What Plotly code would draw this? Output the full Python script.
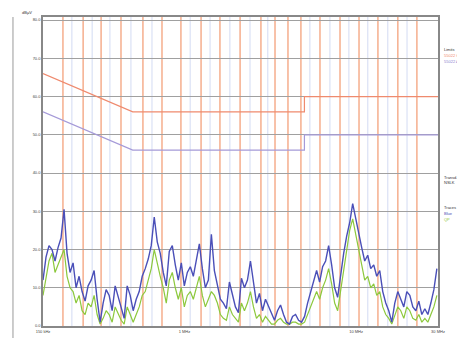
import numpy as np
import plotly.graph_objects as go

# frequency axis (MHz), log scale 150 kHz .. 30 MHz
f_min, f_max = 0.15, 30.0

blue_trace = [
    12, 18, 21, 20, 17, 20.5, 23, 30.5, 19, 14, 16.5, 10, 13, 9, 6.5, 10.5,
    12, 14.5, 7, 1, 6, 9.5, 8, 4, 10.5, 7.5, 5, 2, 10.5, 8, 4, 7,
    9, 13, 15, 17.5, 21, 28.5, 22, 19, 14, 10.5, 19.5, 21, 16, 12,
    16.5, 10.5, 14, 15.5, 13, 17, 21.5, 15, 10, 12, 24, 14.5, 11, 7,
    6, 4.5, 11.5, 8, 5, 3.5, 12.5, 10, 12, 17, 11, 6, 8.5, 4,
    7, 5, 3, 1.5, 4, 5.5, 3, 1, 0.5, 2.5, 3, 1.5, 1, 2.5,
    6, 9, 12, 14.5, 11.5, 15.5, 17, 21, 16, 10, 7.5, 14, 19, 23.5,
    27, 32, 28, 24, 20.5, 17, 18.5, 15, 16, 13, 14.5, 9, 6, 4,
    1, 6, 9, 7, 5, 9, 8, 5, 4, 6.5, 3, 4.5, 3, 6, 9.5, 15,
]
green_trace = [
    8, 12, 17, 19, 14, 16, 18, 20, 13, 10, 9, 6, 8, 4, 3, 6,
    5, 8, 3, 0.5, 2, 4, 3, 1, 5, 3, 1.5, 0.5, 5, 3, 1, 3,
    5, 8, 9, 12, 15, 20, 16, 13, 10, 6, 12, 14, 10, 7,
    10, 5, 8, 9, 7, 10, 13, 8, 5, 7, 9, 8, 6, 3,
    2, 1.5, 5, 3, 2, 1, 6, 4, 6, 9, 5, 2, 3, 1,
    2.5, 1.5, 0.5, 0.5, 1.5, 2, 1, 0.5, 0.5, 1, 1, 0.5, 0.5, 1,
    3, 5, 7, 9, 7, 10, 12, 15, 11, 6, 4, 9, 14, 19,
    25, 28, 24, 19, 15, 12, 13, 10, 11, 8, 9, 5, 3, 2,
    0.5, 3, 5, 4, 2, 5, 4, 2, 1.5, 3, 1, 2, 1, 3, 5, 8,
]
freq = np.geomspace(f_min, 30.0 * 0.985, len(blue_trace))

# EN55022 class B limits
limit_f = [0.15, 0.5, 5.0, 5.0, 30.0]
limit_qp = [66, 56, 56, 60, 60]
limit_av = [56, 46, 46, 50, 50]

# marker lines (MHz)
orange_marks = [0.196, 0.257, 0.327, 0.427, 0.573, 0.740, 0.954, 1.25, 1.61,
                2.11, 2.79, 3.37, 4.01, 4.77, 6.16, 8.06, 10.4, 13.4, 17.5, 22.6]
blue_marks = [0.221, 0.290, 0.368, 0.488, 0.647, 1.08, 1.41, 1.84, 2.41,
              3.06, 5.38, 7.04, 9.08, 11.7, 15.3, 19.8]

y_ticks = [0, 10, 20, 30, 40, 50, 60, 70, 80]
x_tickvals = [0.15, 1, 10, 30]
x_ticktext = ["150 kHz", "1 MHz", "10 MHz", "30 MHz"]

fig = go.Figure()

for f in blue_marks:
    fig.add_shape(type="line", xref="x", yref="paper", x0=f, x1=f, y0=0, y1=1,
                  line=dict(color="#d3dbf3", width=1), layer="below")
for f in orange_marks:
    fig.add_shape(type="line", xref="x", yref="paper", x0=f, x1=f, y0=0, y1=1,
                  line=dict(color="#f6b394", width=1.6), layer="below")

fig.add_trace(go.Scatter(x=limit_f, y=limit_qp, mode="lines",
                         line=dict(color="#ef8a6e", width=1.2), name="QP"))
fig.add_trace(go.Scatter(x=limit_f, y=limit_av, mode="lines",
                         line=dict(color="#a59ad8", width=1.2), name="AV"))
fig.add_trace(go.Scatter(x=freq, y=green_trace, mode="lines",
                         line=dict(color="#8cc83c", width=1.2), name="Green"))
fig.add_trace(go.Scatter(x=freq, y=blue_trace, mode="lines",
                         line=dict(color="#4a4fb8", width=1.4), name="Blue"))

fig.update_xaxes(type="log", range=[np.log10(f_min), np.log10(f_max)],
                 tickvals=x_tickvals, ticktext=x_ticktext, showgrid=False,
                 showline=True, linecolor="#888888", linewidth=1.5, mirror=True,
                 ticks="", tickfont=dict(size=4, color="#444444"), zeroline=False)
fig.update_yaxes(range=[0, 80.8], tickvals=y_ticks,
                 ticktext=[f"{v:.1f}" for v in y_ticks],
                 showgrid=True, gridcolor="#a0a0a0", gridwidth=1,
                 showline=True, linecolor="#888888", linewidth=1.5, mirror=True,
                 ticks="", tickfont=dict(size=4, color="#444444"), zeroline=False)

ann = [
    (-0.058, 1.013, "dBµV", "#333333"),
    (1.01, 0.894, "Limits", "#333333"),
    (1.01, 0.875, "55022 QP", "#ef8a6e"),
    (1.01, 0.855, "55022 AV", "#8a84d0"),
    (1.01, 0.482, "Transd.", "#333333"),
    (1.01, 0.463, "NSLK", "#333333"),
    (1.01, 0.383, "Traces", "#333333"),
    (1.01, 0.363, "Blue", "#4a4fb8"),
    (1.01, 0.344, "QP", "#8cc83c"),
]
for x, y, t, c in ann:
    fig.add_annotation(x=x, y=y, xref="paper", yref="paper", text=t,
                       showarrow=False, xanchor="left", yanchor="middle",
                       font=dict(size=4, color=c, family="Liberation Sans"))

fig.add_shape(type="line", xref="paper", yref="paper", x0=-0.076, x1=-0.076,
              y0=-0.07, y1=1.0, line=dict(color="#999999", width=1))

fig.update_layout(
    width=465, height=338,
    margin=dict(l=35, r=35, t=7, b=20),
    paper_bgcolor="white", plot_bgcolor="white",
    showlegend=False,
    font=dict(size=4, color="#333333", family="Liberation Sans"),
)

fig.write_html("out.html")
